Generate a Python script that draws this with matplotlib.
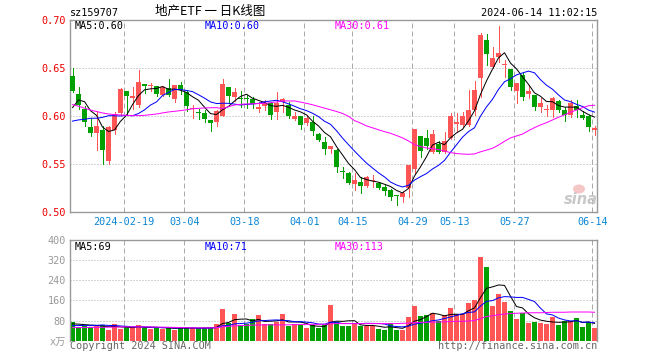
import matplotlib
matplotlib.use("Agg")
import matplotlib.pyplot as plt
import numpy as np
import pandas as pd
from matplotlib.patches import Rectangle, Ellipse

plt.rcParams['lines.scale_dashes'] = False

# ---------------- data ----------------
open_ = [0.642, 0.623, 0.608, 0.589, 0.583, 0.586, 0.553, 0.586, 0.603, 0.626,
         0.619, 0.612, 0.634, 0.632, 0.632, 0.622, 0.630, 0.618, 0.633, 0.625,
         0.608, 0.604, 0.6035, 0.5965, 0.594, 0.600, 0.631, 0.6205, 0.6185, 0.618,
         0.618, 0.6075, 0.611, 0.614, 0.605, 0.6145, 0.612, 0.597, 0.600, 0.5935,
         0.5945, 0.5815, 0.573, 0.5655, 0.565, 0.542, 0.5405, 0.5295, 0.5315, 0.5275,
         0.533, 0.531, 0.5265, 0.5235, 0.5175, 0.5155, 0.525, 0.545, 0.5795, 0.577,
         0.563, 0.571, 0.5625, 0.577, 0.592, 0.591, 0.591, 0.6065, 0.640, 0.6795,
         0.6515, 0.6615, 0.653, 0.649, 0.6265, 0.643, 0.623, 0.622, 0.610, 0.607,
         0.607, 0.616, 0.6065, 0.6015, 0.611, 0.6015, 0.600, 0.586]
high = [0.650, 0.631, 0.611, 0.598, 0.606, 0.590, 0.590, 0.604, 0.629, 0.626,
        0.631, 0.648, 0.634, 0.635, 0.632, 0.632, 0.639, 0.633, 0.636, 0.627,
        0.612, 0.608, 0.607, 0.5965, 0.607, 0.639, 0.631, 0.629, 0.626, 0.622,
        0.6205, 0.615, 0.617, 0.615, 0.625, 0.619, 0.615, 0.605, 0.600, 0.6015,
        0.600, 0.583, 0.578, 0.5695, 0.5655, 0.5475, 0.5415, 0.541, 0.537, 0.538,
        0.539, 0.532, 0.530, 0.524, 0.5175, 0.5225, 0.549, 0.587, 0.5795, 0.586,
        0.586, 0.5745, 0.584, 0.603, 0.603, 0.605, 0.6275, 0.637, 0.6865, 0.686,
        0.6725, 0.694, 0.6585, 0.649, 0.635, 0.645, 0.6325, 0.622, 0.619, 0.612,
        0.620, 0.617, 0.6095, 0.6175, 0.617, 0.606, 0.6015, 0.590]
low = [0.625, 0.608, 0.590, 0.579, 0.565, 0.550, 0.550, 0.582, 0.601, 0.602,
       0.608, 0.610, 0.624, 0.626, 0.621, 0.621, 0.621, 0.615, 0.623, 0.606,
       0.598, 0.597, 0.594, 0.585, 0.590, 0.600, 0.614, 0.616, 0.610, 0.609,
       0.609, 0.605, 0.6065, 0.597, 0.597, 0.605, 0.5985, 0.596, 0.5865, 0.591,
       0.5805, 0.574, 0.5605, 0.5615, 0.5415, 0.536, 0.530, 0.5235, 0.5205, 0.5265,
       0.5265, 0.524, 0.518, 0.513, 0.508, 0.511, 0.516, 0.5405, 0.558, 0.5655,
       0.562, 0.5615, 0.5615, 0.576, 0.584, 0.5885, 0.590, 0.6015, 0.6205, 0.6535,
       0.650, 0.657, 0.641, 0.6275, 0.614, 0.6175, 0.619, 0.6065, 0.605, 0.600,
       0.599, 0.605, 0.5955, 0.5995, 0.599, 0.5975, 0.5845, 0.5805]
close = [0.626, 0.612, 0.594, 0.583, 0.590, 0.565, 0.589, 0.602, 0.628, 0.621,
         0.621, 0.636, 0.632, 0.633, 0.623, 0.631, 0.622, 0.633, 0.627, 0.611,
         0.609, 0.6035, 0.597, 0.5935, 0.606, 0.634, 0.621, 0.625, 0.6175, 0.6175,
         0.613, 0.610, 0.614, 0.601, 0.614, 0.618, 0.600, 0.600, 0.591, 0.5985,
         0.585, 0.5755, 0.5655, 0.569, 0.5475, 0.5415, 0.531, 0.5335, 0.5275, 0.537,
         0.5335, 0.5255, 0.5225, 0.516, 0.5165, 0.5205, 0.549, 0.587, 0.564, 0.569,
         0.5815, 0.563, 0.5745, 0.600, 0.5945, 0.600, 0.607, 0.6275, 0.685, 0.665,
         0.661, 0.666, 0.654, 0.631, 0.635, 0.620, 0.6265, 0.6095, 0.6135, 0.6075,
         0.619, 0.6065, 0.6015, 0.6135, 0.607, 0.598, 0.589, 0.588]
# closes of the 9 sessions before the first candle (estimated from MA lines)
prev_close = [0.5998, 0.5874, 0.572, 0.590, 0.5558, 0.572, 0.6027, 0.630, 0.6143]

ma30 = [0.6122, 0.6105, 0.6085, 0.6065, 0.605, 0.6035, 0.6024, 0.6018, 0.6014, 0.601,
        0.6007, 0.6007, 0.601, 0.6017, 0.6024, 0.6035, 0.6045, 0.6052, 0.6059, 0.6068,
        0.6078, 0.6083, 0.6087, 0.6089, 0.609, 0.608, 0.610, 0.6118, 0.6125, 0.6128,
        0.613, 0.6133, 0.6135, 0.6142, 0.615, 0.616, 0.616, 0.616, 0.6148, 0.6135,
        0.612, 0.6103, 0.6085, 0.6068, 0.605, 0.603, 0.600, 0.5955, 0.593, 0.590,
        0.588, 0.586, 0.584, 0.5823, 0.580, 0.5775, 0.5743, 0.5705, 0.5685, 0.567,
        0.5663, 0.5653, 0.5638, 0.5622, 0.5612, 0.5607, 0.5604, 0.5608, 0.563, 0.5648,
        0.5667, 0.570, 0.574, 0.5775, 0.5795, 0.5815, 0.585, 0.5882, 0.591, 0.5934,
        0.5962, 0.599, 0.6015, 0.6042, 0.6065, 0.609, 0.611, 0.6115]

volume = [76, 56, 58, 56, 58, 63, 42, 65, 46, 53,
          53, 61, 51, 46, 54, 47, 54, 44, 49, 55,
          49, 50, 50, 51, 65, 125, 70, 106, 62, 68,
          86, 102, 65, 66, 75, 107, 59, 65, 63, 49,
          61, 49, 62, 143, 73, 57, 60, 65, 60, 60,
          58, 45, 44, 69, 44, 44, 96, 136, 100, 104,
          110, 77, 102, 128, 108, 108, 148, 160, 332, 292,
          137, 186, 152, 116, 88, 109, 69, 73, 70, 66,
          94, 62, 77, 77, 92, 53, 73, 49]
prev_volume = [55, 52, 55, 58, 45, 62, 68, 65, 64]
vol_ma30 = [52, 52, 52, 53, 53, 53, 54, 54, 55,
            55, 55, 55, 55, 55, 54, 54, 53, 53, 52,
            52, 51, 51, 51, 51, 52,
            55, 57, 59, 60, 61, 62, 62, 63, 63, 63, 63,
            63, 64, 64, 65, 65, 65, 65,
            67, 68, 68, 68, 68, 68,
            68, 68, 68, 68, 68, 68, 69, 70,
            72, 73, 73, 74, 74, 75, 76,
            77, 77, 78, 80,
            88, 96, 99, 103, 106, 108, 109, 110,
            111, 111, 111, 112,
            113, 113, 113, 114, 114, 114, 114, 113]

tick_idx = [9, 19, 29, 39, 47, 57, 64, 74, 87]
tick_labels = ["2024-02-19", "03-04", "03-18", "04-01", "04-15",
               "04-29", "05-13", "05-27", "06-14"]
price_ticks = [0.50, 0.55, 0.60, 0.65, 0.70]
vol_ticks = [80, 160, 240, 320, 400]

# ---------------- styling ----------------
RED = '#ff5555'
GREEN = '#00a000'
GRID = '#aaaaaa'
SPINE = '#999999'
MONO = 'DejaVu Sans Mono'
PX = 0.72  # one pixel in points

W, H = 660, 360
fig = plt.figure(figsize=(6.6, 3.6), dpi=100)


def rect(l, t, r, b):
    return [l / W, 1 - b / H, (r - l) / W, (b - t) / H]


axp = fig.add_axes(rect(70, 20.3, 597, 212.3))
axv = fig.add_axes(rect(70, 240, 597, 340.7))

n = len(close)
xs = np.arange(n)
bw = 5 / 6
cx = xs + bw / 2
xmax = 527 / 6

o = np.array(open_); c = np.array(close); hi = np.array(high); lo = np.array(low)
up = c >= o
colors = np.where(up, RED, GREEN)

full_close = pd.Series(prev_close + close)
ma5 = full_close.rolling(5).mean().to_numpy()[len(prev_close):]
ma10 = full_close.rolling(10).mean().to_numpy()[len(prev_close):]

full_vol = pd.Series(prev_volume + volume, dtype=float)
vma5 = full_vol.rolling(5).mean().to_numpy()[len(prev_volume):]
vma10 = full_vol.rolling(10).mean().to_numpy()[len(prev_volume):]

# ---- price panel ----
axp.set_xlim(0, xmax)
axp.set_ylim(0.50, 0.70)
for yv in [0.55, 0.60, 0.65]:
    axp.axhline(yv, color=GRID, lw=PX, ls=(0, (PX, 2 * PX)), zorder=0)
for t in tick_idx:
    axp.axvline(t + 0.05, color=GRID, lw=PX, ls=(0, (5 * PX, 3 * PX)), zorder=0)

minh = 0.2 / 192
axp.vlines(cx, lo, hi, colors=colors, lw=PX, antialiased=False, zorder=2)
for i in range(n):
    b = min(o[i], c[i]); h = max(abs(c[i] - o[i]), minh)
    axp.add_patch(Rectangle((xs[i], b), bw, h, facecolor=colors[i],
                            edgecolor='none', antialiased=False, zorder=3))

axp.plot(cx, ma5, color='black', lw=PX, zorder=4)
axp.plot(cx, ma10, color='#0000ff', lw=PX, zorder=4)
axp.plot(cx, ma30, color='#ff00ff', lw=PX, zorder=4)

axp.set_yticks(price_ticks)
axp.set_yticklabels([f"{v:.2f}" for v in price_ticks])
axp.set_xticks([t + 0.05 for t in tick_idx])
axp.set_xticklabels(tick_labels)
axp.tick_params(axis='y', length=0, pad=3, labelcolor='#ee0000', labelsize=7.3)
axp.tick_params(axis='x', length=0, pad=3.5, labelcolor='#0a86d6', labelsize=7.3)
for lab in axp.get_xticklabels() + axp.get_yticklabels():
    lab.set_family(MONO)
for s in axp.spines.values():
    s.set_color(SPINE); s.set_linewidth(1.0)

# ---- volume panel ----
axv.set_xlim(0, xmax)
axv.set_ylim(0, 400)
for yv in [80, 160, 240, 320]:
    axv.axhline(yv, color=GRID, lw=PX, ls=(0, (PX, 2 * PX)), zorder=0)
for t in tick_idx:
    axv.axvline(t + 0.05, color=GRID, lw=PX, ls=(0, (5 * PX, 3 * PX)), zorder=0)
axv.bar(xs, volume, width=bw, align='edge', color=colors, antialiased=False, zorder=2)
axv.plot(cx, vma5, color='black', lw=PX, zorder=4)
axv.plot(cx, vma10, color='#0000ff', lw=PX, zorder=4)
axv.plot(cx, vol_ma30, color='#ff00ff', lw=PX, zorder=4)
axv.set_yticks([0] + vol_ticks)
axv.set_yticklabels(["x万"] + [str(v) for v in vol_ticks])
axv.set_xticks([])
axv.tick_params(axis='y', length=0, pad=3, labelcolor='#999999', labelsize=7.3)
for lab in axv.get_yticklabels():
    lab.set_family([MONO, 'Noto Sans CJK SC'])
for k, s in axv.spines.items():
    s.set_color(SPINE); s.set_linewidth(1.0)
axv.spines['bottom'].set_visible(False)


# ---- texts ----
def ftext(x, y, s, **kw):
    kw.setdefault('family', MONO)
    kw.setdefault('fontsize', 7.3)
    kw.setdefault('va', 'center')
    fig.text(x / W, 1 - y / H, s, **kw)


ftext(70, 13, "sz159707", color='black')
ftext(210, 12, "地产ETF 一 日K线图", color='black', ha='center', fontsize=9,
      family=['Noto Sans CJK SC', 'DejaVu Sans'])
ftext(597, 13, "2024-06-14 11:02:15", color='black', ha='right')

ftext(75, 26.3, f"MA5:{ma5[-1]:.2f}", color='black')
ftext(204.3, 26.3, f"MA10:{ma10[-1]:.2f}", color='#0000ff')
ftext(334.7, 26.3, f"MA30:{ma30[-1]:.2f}", color='#ff00ff')

ftext(75, 246.7, f"MA5:{vma5[-1]:.0f}", color='black')
ftext(204.3, 246.7, f"MA10:{vma10[-1]:.0f}", color='#0000ff')
ftext(334.7, 246.7, f"MA30:{vol_ma30[-1]:.0f}", color='#ff00ff')

ftext(70, 346, "Copyright 2024 SINA.COM", color='#666666')
ftext(597, 346, "http://finance.sina.com.cn", color='#666666', ha='right')

# sina watermark
ftext(581, 199, "sina", color='#c8c8c8', ha='center', family='DejaVu Sans',
      fontsize=10.5, fontweight='bold', style='italic')
fig.patches.append(Ellipse((579 / W, 1 - 189 / H), 12 / W, 9 / H,
                           transform=fig.transFigure, facecolor='#f2b8b8',
                           edgecolor='none', alpha=0.8, zorder=5))

fig.savefig("out.png", dpi=100)
